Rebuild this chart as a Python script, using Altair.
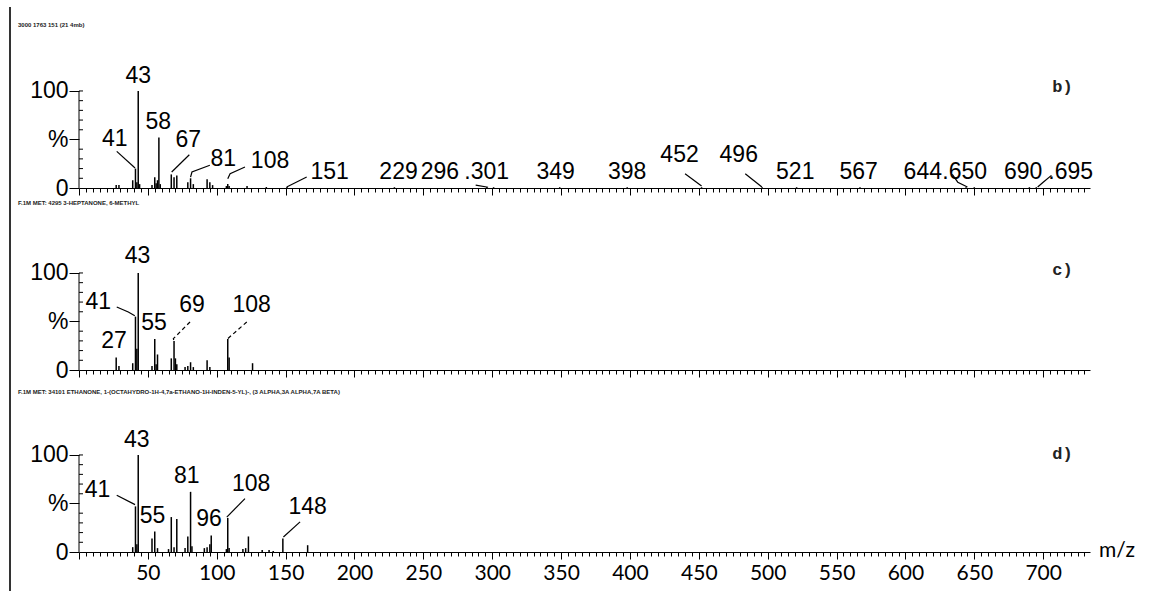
import altair as alt
import pandas as pd

# ---------------- data ----------------
# panel b
b_mz = [27, 29, 39, 41, 42, 43, 44, 53, 55, 56, 57, 58, 59, 67, 69, 71, 79, 81, 83,
        93, 95, 97, 107, 108, 109, 122, 136, 151, 229, 296, 301, 349, 398, 452, 496,
        521, 567, 644, 650, 690, 695]
b_int = [3, 3, 8, 20, 6, 100, 4, 3, 11, 5, 8, 52, 4, 14, 11, 13, 6, 10, 4,
         9, 6, 3, 2, 4, 2, 2, 1, 1, 0.8, 0.8, 0.8, 0.8, 0.8, 0.8, 0.8,
         0.8, 0.8, 0.8, 0.8, 0.8, 0.8]
b_lab_text = ["43", "41", "58", "67", "81", "108", "151", "229", "296", ".301", "349",
              "398", "452", "496", "521", "567", "644", ".650", "690", ".695"]
b_lab_mz = [43, 26, 57.6, 79.4, 104.8, 138.7, 182, 232, 262, 296, 346,
            398, 436, 479, 520, 566, 612.6, 643, 685.5, 720]
b_lab_y = [115, 51, 68.4, 49.5, 29.6, 27.5, 16.8, 16.3, 16.3, 16.3, 16.3,
           16.3, 34, 34, 16.3, 16.3, 16.3, 16.3, 16.3, 16.3]
b_lead_id = [1, 1, 2, 2, 3, 3, 3, 4, 4, 4, 5, 5, 6, 6, 7, 7, 8, 8, 9, 9, 9, 10, 10, 10]
b_lead_mz = [27.4, 40.7, 80.1, 67.3, 95, 82, 81, 120.5, 109.7, 108, 165.3, 150.8,
             288, 297, 440, 452, 483.7, 495.8, 634, 638, 645, 706, 700, 696]
b_lead_y = [37.8, 20.6, 34.3, 16.5, 23.4, 16.5, 11.3, 21.6, 14.7, 9.6, 11.3, 1,
            3, 0.8, 14.7, 2, 14.7, 1, 14, 6, 1, 13, 6, 1]

# panel c
c_mz = [27, 29, 39, 41, 42, 43, 53, 55, 56, 57, 67, 69, 70, 71, 77, 79, 81, 83,
        93, 95, 108, 109, 126]
c_int = [13, 4, 7, 55, 22, 100, 4, 32, 6, 16, 12, 30, 12, 6, 3, 4, 8, 3,
         10, 3, 32, 13, 7]
c_lab_text = ["43", "41", "27", "55", "69", "108"]
c_lab_mz = [42.5, 14, 25.4, 54.5, 82, 125.4]
c_lab_y = [117.5, 70, 30, 48.5, 67.5, 67.5]
c_lead_id = [1, 1, 1]
c_lead_mz = [27.4, 35.8, 40.5]
c_lead_y = [65, 59.8, 56]
c_dash_id = [1, 1, 1, 2, 2]
c_dash_mz = [80.6, 68.5, 69, 121.8, 108]
c_dash_y = [49.5, 32.3, 30, 49.5, 32.3]

# panel d
d_mz = [39, 41, 42, 43, 53, 55, 57, 65, 67, 69, 71, 77, 79, 81, 82, 91, 93, 95, 96,
        107, 108, 109, 119, 121, 123, 133, 138, 141, 148, 166]
d_int = [5, 47, 8, 100, 14, 21, 4, 3, 36, 5, 34, 4, 16, 62, 6, 4, 5, 8, 17,
         3, 35, 4, 3, 4, 16, 2, 2, 1, 14, 7]
d_lab_text = ["43", "41", "55", "81", "96", "108", "148"]
d_lab_mz = [42, 13.4, 53.4, 78.2, 94.4, 125, 166]
d_lab_y = [115, 63.4, 37.6, 78, 34.5, 70, 46.4]
d_lead_id = [1, 1, 2, 2, 3, 3]
d_lead_mz = [27.4, 40.7, 120.5, 107.3, 160.5, 148.4]
d_lead_y = [58.5, 48.8, 55, 36, 31, 15.5]

tags = ["b)", "c)", "d)"]
tag_mz = 714
tag_y = [104, 103, 101]
headers = ["3000 1763 151 (21 4mb)",
           "F.1M        MET: 4295 3-HEPTANONE, 6-METHYL",
           "F.1M        MET: 34101 ETHANONE, 1-(OCTAHYDRO-1H-4,7a-ETHANO-1H-INDEN-5-YL)-, (3 ALPHA,3A ALPHA,7A BETA)"]
header_y = [-32, -36, -29]

x_ticks = list(range(0, 735, 5))
y_major = [0, 50, 100]
y_minor = [10, 20, 30, 40, 60, 70, 80, 90, 100]

X_DOMAIN = [0, 734]
Y_DOMAIN = [0, 135]
W, H = 1011, 131
LABEL_FONT = "Liberation Sans"


def panel(mz, inten, lab_t, lab_mz, lab_y, lead, dash, tag, ty, header, hy, bottom, border):
    xs = alt.Scale(domain=X_DOMAIN, nice=False, zero=False)
    ys = alt.Scale(domain=Y_DOMAIN, nice=False)
    xaxis = alt.Axis(
        values=x_ticks,
        tickSize={"condition": {"test": "datum.value % 50 === 0", "value": 7}, "value": 4},
        labels=bottom,
        labelExpr="datum.value % 50 === 0 && datum.value > 0 ? datum.label : ''",
        labelOverlap=False, labelFlush=False,
        labelFont="Lato", labelFontSize=21, labelColor="black", labelPadding=3,
        domainColor="black", tickColor="black", grid=False, title=None,
    )
    yaxis = alt.Axis(
        values=y_major,
        labelExpr="datum.value === 50 ? '%' : datum.label",
        tickSize=10, domain=False, grid=False, title=None,
        labelFont=LABEL_FONT, labelFontSize=23, labelColor="black", labelPadding=1,
        tickColor="black",
    )

    def X(f):
        return alt.X(f, scale=xs, axis=xaxis)

    def Y(f):
        return alt.Y(f, scale=ys, axis=yaxis)

    peaks = pd.DataFrame({"mz": mz, "i": inten, "z": [0] * len(mz)})
    layers = [
        alt.Chart(peaks).mark_rule(color="black", strokeWidth=1.5).encode(
            x=X("mz:Q"), y=Y("i:Q"), y2="z:Q")
    ]
    # y axis line 0..100
    layers.append(
        alt.Chart(pd.DataFrame({"a": [0], "b": [100]})).mark_rule(color="black", strokeWidth=1).encode(
            x=alt.value(0), y=Y("a:Q"), y2="b:Q")
    )
    # minor y ticks (pointing inward)
    layers.append(
        alt.Chart(pd.DataFrame({"v": y_minor})).mark_rule(color="black", strokeWidth=1).encode(
            x=alt.value(0), x2=alt.value(4), y=Y("v:Q"))
    )
    # peak labels
    layers.append(
        alt.Chart(pd.DataFrame({"t": lab_t, "mz": lab_mz, "y": lab_y})).mark_text(
            font=LABEL_FONT, fontSize=23, color="black").encode(
            x=X("mz:Q"), y=Y("y:Q"), text="t:N")
    )
    if lead is not None:
        layers.append(
            alt.Chart(pd.DataFrame({"id": lead[0], "o": list(range(len(lead[0]))),
                                    "mz": lead[1], "y": lead[2]})).mark_line(
                color="black", strokeWidth=1.2).encode(
                x=X("mz:Q"), y=Y("y:Q"), detail="id:N", order="o:Q")
        )
    if dash is not None:
        layers.append(
            alt.Chart(pd.DataFrame({"id": dash[0], "o": list(range(len(dash[0]))),
                                    "mz": dash[1], "y": dash[2]})).mark_line(
                color="black", strokeWidth=1.2, strokeDash=[4, 3]).encode(
                x=X("mz:Q"), y=Y("y:Q"), detail="id:N", order="o:Q")
        )
    # panel tag
    layers.append(
        alt.Chart(pd.DataFrame({"t": [tag], "mz": [tag_mz], "y": [ty]})).mark_text(
            font="Liberation Mono", fontSize=17, fontWeight="bold", color="#222").encode(
            x=X("mz:Q"), y=Y("y:Q"), text="t:N")
    )
    # header line
    layers.append(
        alt.Chart(pd.DataFrame({"h": [header]})).mark_text(
            align="left", font=LABEL_FONT, fontSize=6, fontWeight="bold", color="#222").encode(
            x=alt.value(-61), y=alt.value(hy), text="h:N")
    )
    if border:
        layers.append(
            alt.Chart(pd.DataFrame({"a": [0]})).mark_rule(color="#333", strokeWidth=2).encode(
                x=alt.value(-69), y=alt.value(-50), y2=alt.value(534))
        )
    if bottom:
        layers.append(
            alt.Chart(pd.DataFrame({"t": ["m/z"]})).mark_text(
                font="Lato", fontSize=21, color="black").encode(
                x=alt.value(1038), y=alt.value(130), text="t:N")
        )
    return alt.layer(*layers).properties(width=W, height=H)


pb = panel(b_mz, b_int, b_lab_text, b_lab_mz, b_lab_y, (b_lead_id, b_lead_mz, b_lead_y), None,
           tags[0], tag_y[0], headers[0], header_y[0], False, True)
pc = panel(c_mz, c_int, c_lab_text, c_lab_mz, c_lab_y, (c_lead_id, c_lead_mz, c_lead_y),
           (c_dash_id, c_dash_mz, c_dash_y), tags[1], tag_y[1], headers[1], header_y[1], False, False)
pd_ = panel(d_mz, d_int, d_lab_text, d_lab_mz, d_lab_y, (d_lead_id, d_lead_mz, d_lead_y), None,
            tags[2], tag_y[2], headers[2], header_y[2], True, False)

chart = alt.vconcat(pb, pc, pd_, spacing=51, bounds="flush").properties(
    padding={"left": 8, "top": 5, "right": 0, "bottom": 0},
    background="white",
).configure_view(stroke="transparent")

chart.save("out.html", embed_options={"renderer": "svg", "actions": False})
